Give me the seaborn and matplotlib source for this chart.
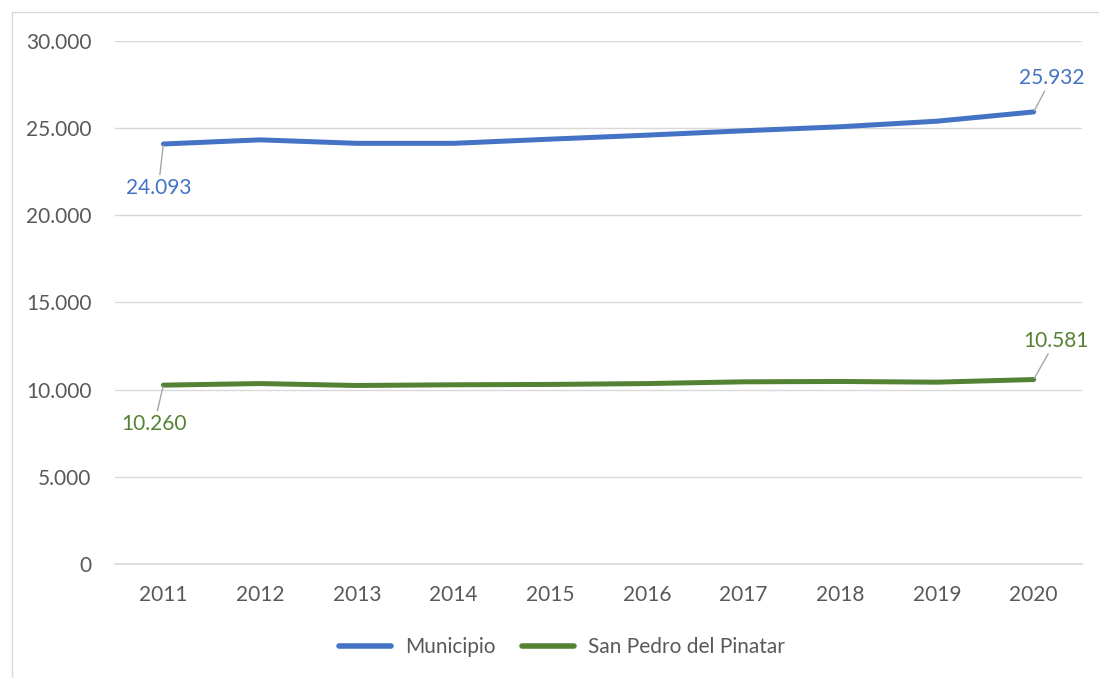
import matplotlib.pyplot as plt
import pandas as pd
import seaborn as sns
from matplotlib import ticker
from matplotlib.lines import Line2D

years = [2011, 2012, 2013, 2014, 2015, 2016, 2017, 2018, 2019, 2020]
municipio = [24093, 24330, 24130, 24130, 24370, 24600, 24850, 25080, 25400, 25932]
san_pedro = [10260, 10350, 10240, 10280, 10300, 10350, 10450, 10470, 10430, 10581]
series_names = ["Municipio", "San Pedro del Pinatar"]
colors = ["#4472C4", "#548235"]
y_ticks = [0, 5000, 10000, 15000, 20000, 25000, 30000]

FS = 15


def thousands(x, _):
    return f"{int(x):,}".replace(",", ".")


def main() -> None:
    sns.set_theme(style="white")
    plt.rcParams["font.family"] = ["Lato", "DejaVu Sans"]

    df = pd.DataFrame(
        {
            "year": years * 2,
            "value": municipio + san_pedro,
            "serie": [series_names[0]] * len(years) + [series_names[1]] * len(years),
        }
    )

    fig = plt.figure(figsize=(10.99, 6.78), dpi=100)
    ax = fig.add_axes([115 / 1099, 1 - 564 / 678, (1082 - 115) / 1099, (564 - 41) / 678])

    sns.lineplot(
        data=df,
        x="year",
        y="value",
        hue="serie",
        palette=colors,
        linewidth=3.6,
        legend=False,
        ax=ax,
        solid_capstyle="round",
    )

    ax.set_xlim(2010.5, 2020.5)
    ax.set_ylim(0, 30000)
    ax.set_xticks(years)
    ax.set_yticks(y_ticks)
    ax.yaxis.set_major_formatter(ticker.FuncFormatter(thousands))
    ax.grid(axis="y", color="#D9D9D9", linewidth=1)
    ax.set_axisbelow(True)
    for side in ["top", "right", "left"]:
        ax.spines[side].set_visible(False)
    ax.spines["bottom"].set_color("#D9D9D9")
    ax.tick_params(axis="both", length=0, labelsize=FS, colors="#595959")
    ax.tick_params(axis="x", pad=15)
    ax.tick_params(axis="y", pad=17)
    ax.set_xlabel("")
    ax.set_ylabel("")

    # data labels at first and last points
    label_specs = [
        (years[0], municipio[0], (-5, -44), colors[0]),
        (years[-1], municipio[-1], (18, 34), colors[0]),
        (years[0], san_pedro[0], (-9, -39), colors[1]),
        (years[-1], san_pedro[-1], (22, 39), colors[1]),
    ]
    for x, y, off, col in label_specs:
        ax.annotate(
            thousands(y, None),
            xy=(x, y),
            xytext=off,
            textcoords="offset pixels",
            ha="center",
            va="center",
            fontsize=FS,
            color=col,
            arrowprops=dict(arrowstyle="-", color="#A6A6A6", lw=1, shrinkA=0, shrinkB=1),
        )

    handles = [Line2D([0], [0], color=c, lw=4, solid_capstyle="round") for c in colors]
    fig.legend(
        handles,
        series_names,
        loc="center",
        bbox_to_anchor=(562 / 1099, 1 - 647 / 678),
        ncol=2,
        frameon=False,
        fontsize=FS,
        handlelength=2.5,
        handletextpad=0.65,
        columnspacing=1.3,
        labelcolor="#595959",
    )

    # chart area border
    fig.add_artist(Line2D([12 / 1099, 1], [1 - 12 / 678] * 2, color="#D9D9D9", lw=1))
    fig.add_artist(Line2D([12 / 1099] * 2, [0, 1 - 12 / 678], color="#D9D9D9", lw=1))

    fig.savefig("out.png", dpi=100)
    plt.close()


if __name__ == "__main__":
    main()
